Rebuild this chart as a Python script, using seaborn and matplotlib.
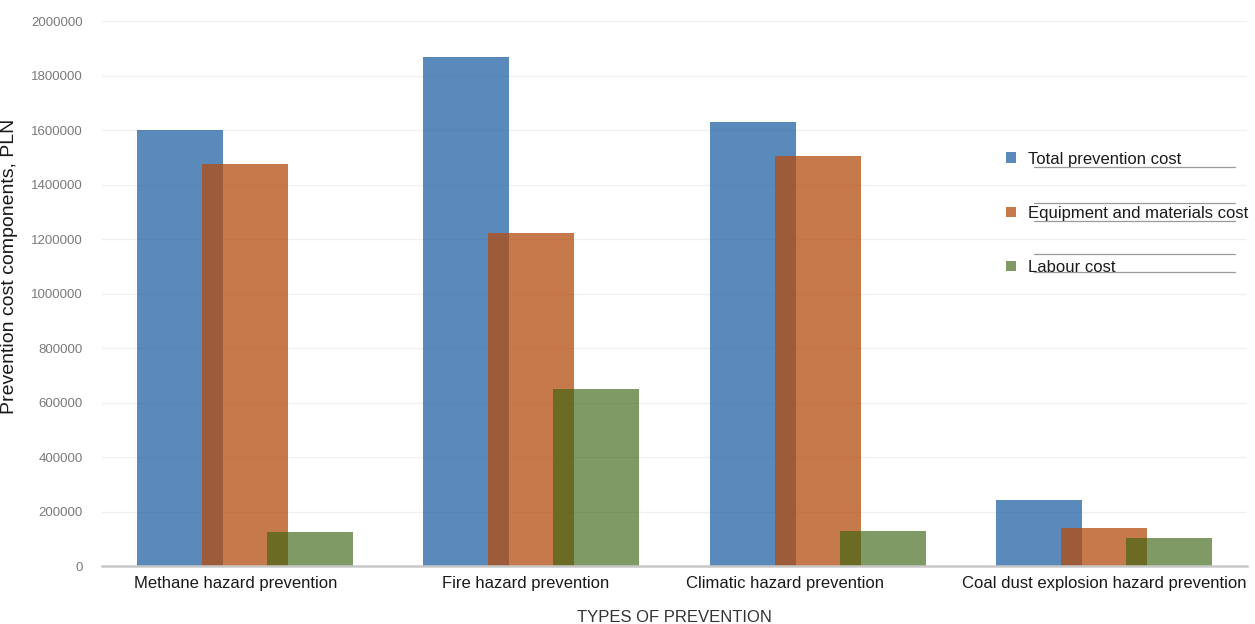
import matplotlib
matplotlib.use("Agg")
import matplotlib.pyplot as plt
import matplotlib.transforms as mtransforms
import seaborn as sns
import pandas as pd

categories = [
    "Methane hazard prevention",
    "Fire hazard prevention",
    "Climatic hazard prevention",
    "Coal dust explosion hazard prevention",
]
series_names = [
    "Total prevention cost",
    "Equipment and materials cost",
    "Labour cost",
]
total_cost = [1600000, 1868000, 1629000, 242000]
equipment_cost = [1475000, 1222000, 1504000, 139000]
labour_cost = [125000, 649000, 128000, 103000]
y_ticks = [0, 200000, 400000, 600000, 800000, 1000000,
           1200000, 1400000, 1600000, 1800000, 2000000]

df = pd.DataFrame({
    "category": categories * 3,
    "series": [s for s in series_names for _ in categories],
    "value": total_cost + equipment_cost + labour_cost,
})

sns.set_theme(style="white")
plt.rcParams["font.family"] = ["Liberation Sans", "DejaVu Sans"]

fig = plt.figure(figsize=(12.55, 6.24), dpi=100)
ax = fig.add_axes([0.0813, 0.0929, 0.9123, 0.8734])

# semi-transparent fills; base colours chosen so the blend on white reads right
palette = ["#2363a5", "#b44c0d", "#3a6411"]
alphas = [0.75, 0.75, 0.65]

sns.barplot(
    data=df, x="category", y="value", hue="series",
    order=categories, hue_order=series_names, palette=palette,
    width=0.682, gap=-0.323, dodge=True,
    linewidth=0, saturation=1, ax=ax, zorder=2,
)

# per-series transparency (bars come out in hue order, one container each)
for a, container in zip(alphas, ax.containers):
    for bar in container:
        bar.set_alpha(a)

ax.set_xlim(-0.5, 3.5)
ax.set_ylim(0, 2000000)
ax.set_yticks(y_ticks)
ax.set_yticklabels([str(v) for v in y_ticks])
ax.yaxis.grid(True, color="#f0f0f0", linewidth=1.0, zorder=0)
ax.set_axisbelow(True)

for side in ["top", "right", "left"]:
    ax.spines[side].set_visible(False)
ax.spines["bottom"].set_color("#c8c8c8")
ax.spines["bottom"].set_linewidth(1.8)

ax.tick_params(axis="y", length=0, pad=14, labelsize=9.5, labelcolor="#7a7a7a")
ax.tick_params(axis="x", length=0, pad=7, labelsize=12, labelcolor="#1a1a1a")

# category captions sit a little left of their bar groups
label_shift_px = [-9, -6, -33, 0]
for lab, dx in zip(ax.get_xticklabels(), label_shift_px):
    lab.set_transform(lab.get_transform()
                      + mtransforms.ScaledTranslation(dx / 100, 0, fig.dpi_scale_trans))

ax.set_xlabel("TYPES OF PREVENTION", fontsize=12, color="#333333", labelpad=14)
ax.set_ylabel("Prevention cost components, PLN", fontsize=14, color="#1a1a1a")
ax.yaxis.set_label_coords(-0.0734, 0.55)

handles, labels = ax.get_legend_handles_labels()
leg = ax.legend(
    handles, labels, loc="upper left", bbox_to_anchor=(0.7895, 0.7605),
    frameon=False, fontsize=12, labelspacing=2.35, handlelength=0.6,
    handleheight=0.6, handletextpad=0.7, borderpad=0, borderaxespad=0,
)
for t in leg.get_texts():
    t.set_color("#1a1a1a")
for h, a in zip(leg.legend_handles, alphas):
    h.set_alpha(a)

# thin rules running under the legend entries
for yy in [0.732, 0.666, 0.633, 0.5725, 0.5394]:
    ax.plot([0.814, 0.9895], [yy, yy], transform=ax.transAxes,
            color="#9a9a9a", linewidth=0.9, clip_on=False, zorder=5)

fig.savefig("out.png", dpi=100)
